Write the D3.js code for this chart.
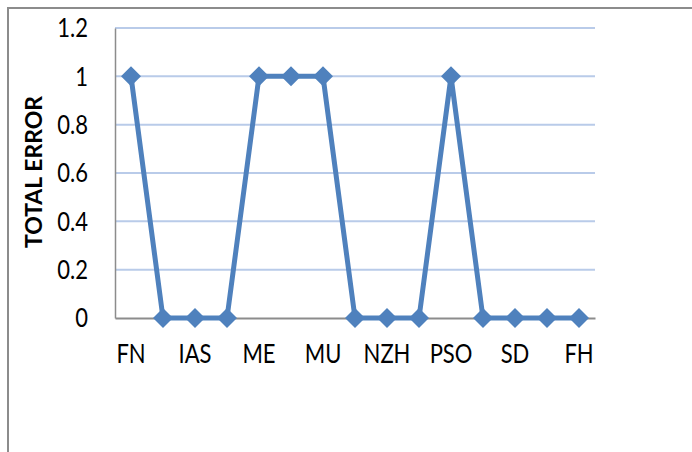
<!DOCTYPE html>
<html>
<head>
<meta charset="utf-8">
<script src="https://cdn.jsdelivr.net/npm/d3@7"></script>
<style>
	body { margin: 0; background: #fff; }
	svg { display: block; font-family: Lato, "Open Sans", sans-serif; }
</style>
</head>
<body>
<script>
// categories (Excel only printed every second one)
var categories = ["FN", "", "IAS", "", "ME", "", "MU", "", "NZH", "", "PSO", "", "SD", "", "FH"];
var totalError = [1, 0, 0, 0, 1, 1, 1, 0, 0, 0, 1, 0, 0, 0, 0];
var yTicks = [0, 0.2, 0.4, 0.6, 0.8, 1, 1.2];

var stretch = 1.25; // the source picture is squeezed sideways, text looks tall

var svg = d3.select("body").append("svg")
	.attr("width", 692)
	.attr("height", 452);

// outer frame, only top and left edges visible
svg.append("path")
	.attr("d", "M8,452V8H692")
	.attr("fill", "none")
	.attr("stroke", "#8c8c8c")
	.attr("stroke-width", 2);

var margin = {top: 28, left: 115},
	width = 480,
	height = 290,
	g = svg.append("g").attr("transform", "translate(" + margin.left + "," + margin.top + ")");

var x = d3.scaleBand()
	.domain(d3.range(categories.length))
	.range([0, width]);

var y = d3.scaleLinear()
	.domain([0, 1.2])
	.range([height, 0]);

// gridlines
g.append("g")
	.selectAll("line")
	.data(yTicks.filter(function(d){return d > 0;}))
	.enter().append("line")
		.attr("x1", 0)
		.attr("x2", width)
		.attr("y1", function(d){return y(d);})
		.attr("y2", function(d){return y(d);})
		.attr("stroke", "#b9cbe9")
		.attr("stroke-width", 2);

// y axis
var yAxis = g.append("g")
	.call(d3.axisLeft(y).tickValues(yTicks).tickSize(0).tickPadding(27).tickFormat(d3.format("")));
yAxis.select(".domain").attr("stroke", "#8c8c8c").attr("stroke-width", 1.5);
yAxis.selectAll("text")
	.attr("font-size", 22)
	.attr("font-family", "Lato, sans-serif")
	.attr("fill", "#000")
	.attr("transform", "scale(1," + stretch + ")");

// x axis
var xAxis = g.append("g")
	.attr("transform", "translate(0," + height + ")")
	.call(d3.axisBottom(x).tickSize(0).tickFormat(function(i){return categories[i];}));
xAxis.select(".domain").attr("stroke", "#8c8c8c").attr("stroke-width", 2);
xAxis.selectAll("text")
	.attr("y", 20)
	.attr("font-size", 22)
	.attr("font-family", "Lato, sans-serif")
	.attr("fill", "#000")
	.attr("transform", "scale(1," + stretch + ")");

// axis title
svg.append("text")
	.attr("transform", "translate(42,172) rotate(-90)")
	.attr("text-anchor", "middle")
	.attr("font-size", 23)
	.attr("font-weight", "bold")
	.attr("font-family", "Lato, sans-serif")
	.text("TOTAL ERROR");

var cx = function(d, i){return x(i) + x.bandwidth() / 2;};

g.append("path")
	.datum(totalError)
	.attr("fill", "none")
	.attr("stroke", "#4f81bd")
	.attr("stroke-width", 5)
	.attr("stroke-linejoin", "round")
	.attr("d", d3.line().x(cx).y(function(d){return y(d);}));

g.append("g")
	.selectAll("path")
	.data(totalError)
	.enter().append("path")
		.attr("transform", function(d, i){return "translate(" + cx(d, i) + "," + y(d) + ")";})
		.attr("d", "M0,-10L10,0L0,10L-10,0Z")
		.attr("fill", "#4f81bd");
</script>
</body>
</html>
